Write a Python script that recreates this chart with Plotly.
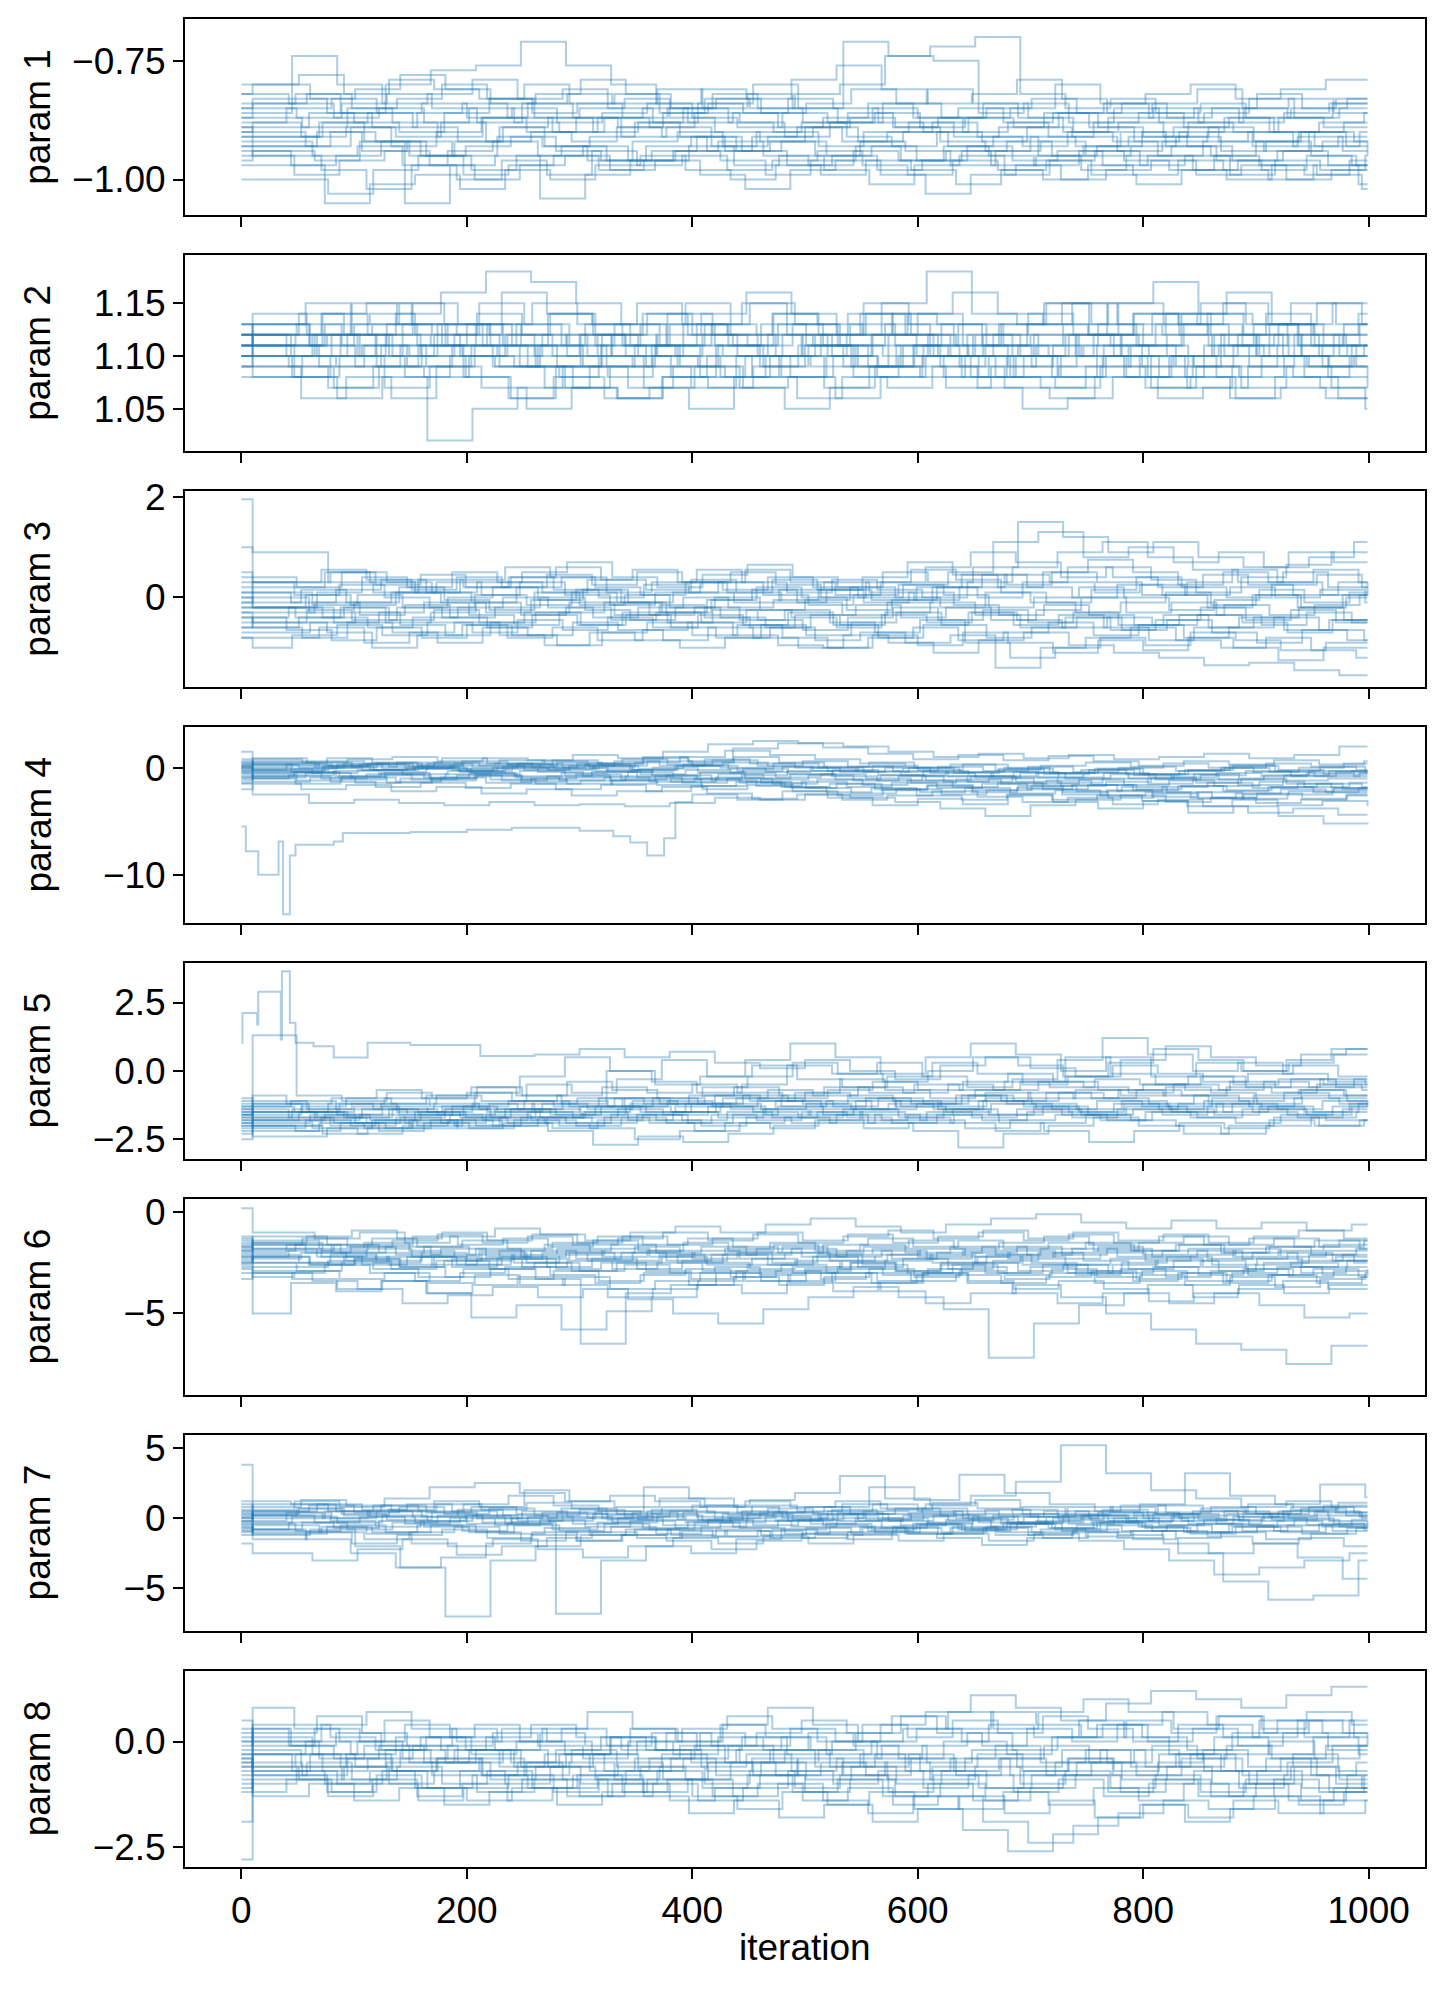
import plotly.graph_objects as go

# ---------------- data ----------------
# iteration grids (sampled chain positions)
GRID26 = [0, 40, 80, 120, 160, 200, 240, 280, 320, 360, 400, 440, 480, 520, 560,
          600, 640, 680, 720, 760, 800, 840, 880, 920, 960, 1000]
GRID27 = [0, 10, 40, 80, 120, 160, 200, 240, 280, 320, 360, 400, 440, 480, 520, 560,
          600, 640, 680, 720, 760, 800, 840, 880, 920, 960, 1000]
# each walker accepts its moves at its own iterations: shift of its step positions
WALKER_SHIFT = [0, 23, 11, 31, 5, 17, 37, 8, 27, 14, 34, 2, 20, 29, 9, 25,
                13, 36, 4, 21, 32, 7, 18, 39]

PARAM_LABELS = ["param 1", "param 2", "param 3", "param 4",
                "param 5", "param 6", "param 7", "param 8"]
X_TICKS = [0, 200, 400, 600, 800, 1000]
X_TITLE = "iteration"
LAST_ITER = 999

Y_TICKS = [
    [-1.00, -0.75],
    [1.05, 1.10, 1.15],
    [0, 2],
    [-10, 0],
    [-2.5, 0.0, 2.5],
    [-5, 0],
    [-5, 0, 5],
    [-2.5, 0.0],
]
Y_TICK_TEXT = [
    ["\u22121.00", "\u22120.75"],
    ["1.05", "1.10", "1.15"],
    ["0", "2"],
    ["\u221210", "0"],
    ["\u22122.5", "0.0", "2.5"],
    ["\u22125", "0"],
    ["\u22125", "0", "5"],
    ["\u22122.5", "0.0"],
]

P1_WALKERS = [
    [-0.88,-0.85,-0.83,-0.86,-0.84,-0.87,-0.85,-0.88,-0.86,-0.84,-0.87,-0.89,-0.86,-0.88,-0.85,-0.87,-0.90,-0.88,-0.86,-0.89,-0.91,-0.88,-0.90,-0.87,-0.89,-0.88],
    [-0.92,-0.95,-0.93,-0.97,-0.94,-0.92,-0.95,-0.93,-0.96,-0.94,-0.92,-0.95,-0.97,-0.94,-0.96,-0.93,-0.95,-0.97,-0.94,-0.96,-0.98,-0.95,-0.97,-0.99,-0.96,-0.98],
    [-0.80,-0.78,-0.82,-0.79,-0.81,-0.83,-0.80,-0.84,-0.82,-0.86,-0.83,-0.85,-0.82,-0.80,-0.74,-0.72,-0.70,-0.82,-0.85,-0.83,-0.86,-0.84,-0.87,-0.85,-0.83,-0.85],
    [-0.95,-0.98,-1.02,-0.97,-1.00,-0.96,-0.99,-0.94,-0.97,-0.95,-0.98,-0.96,-0.94,-0.97,-0.99,-0.96,-0.98,-1.00,-0.97,-0.99,-0.96,-0.98,-1.00,-0.97,-1.01,-1.02],
    [-0.86,-0.74,-0.80,-0.84,-0.82,-0.79,-0.83,-0.81,-0.85,-0.88,-0.84,-0.86,-0.83,-0.85,-0.88,-0.90,-0.87,-0.89,-0.86,-0.84,-0.87,-0.85,-0.88,-0.86,-0.84,-0.82],
    [-0.90,-0.93,-0.89,-0.91,-0.88,-0.92,-0.90,-0.87,-0.91,-0.89,-0.93,-0.90,-0.88,-0.91,-0.93,-0.90,-0.92,-0.89,-0.91,-0.94,-0.92,-0.90,-0.93,-0.91,-0.94,-0.92],
    [-1.00,-1.03,-0.98,-0.95,-0.99,-0.97,-0.95,-0.98,-0.96,-0.93,-0.97,-0.95,-0.98,-1.01,-0.97,-0.95,-0.99,-0.96,-0.94,-0.97,-0.95,-0.99,-0.96,-0.98,-0.95,-0.97],
    [-0.84,-0.82,-0.86,-0.80,-0.77,-0.76,-0.71,-0.76,-0.80,-0.84,-0.81,-0.83,-0.79,-0.76,-0.81,-0.84,-0.82,-0.79,-0.83,-0.86,-0.84,-0.81,-0.85,-0.87,-0.84,-0.86],
    [-0.93,-0.90,-0.94,-0.92,-0.95,-0.91,-0.93,-0.96,-0.92,-0.90,-0.93,-0.91,-0.89,-0.92,-0.90,-0.93,-0.91,-0.95,-0.93,-0.91,-0.89,-0.92,-0.94,-0.90,-0.92,-0.91],
    [-0.87,-0.89,-0.85,-0.88,-0.91,-0.87,-0.84,-0.87,-0.89,-0.86,-0.84,-0.80,-0.85,-0.71,-0.74,-0.75,-0.86,-0.84,-0.88,-0.85,-0.88,-0.86,-0.83,-0.87,-0.85,-0.83],
    [-0.97,-1.05,-1.01,-0.99,-1.02,-0.98,-1.00,-0.97,-0.95,-0.98,-1.00,-0.97,-0.99,-0.96,-0.98,-1.01,-0.98,-0.96,-0.99,-1.01,-0.98,-1.00,-0.97,-0.99,-1.02,-1.00],
    [-0.82,-0.84,-0.87,-0.85,-0.88,-0.85,-0.88,-0.90,-0.87,-0.89,-0.86,-0.88,-0.91,-0.88,-0.86,-0.89,-0.87,-0.85,-0.80,-0.84,-0.82,-0.80,-0.83,-0.81,-0.79,-0.81],
    [-0.89,-0.86,-0.88,-0.90,-0.86,-0.83,-0.87,-0.85,-0.83,-0.87,-0.90,-0.92,-0.89,-0.87,-0.89,-0.92,-0.94,-0.91,-0.93,-0.90,-0.93,-0.95,-0.92,-0.90,-0.93,-0.95],
    [-0.91,-0.88,-0.92,-0.95,-0.92,-0.89,-0.93,-0.91,-0.88,-0.91,-0.94,-0.92,-0.95,-0.92,-0.94,-0.97,-0.94,-0.92,-0.95,-0.93,-0.91,-0.94,-0.92,-0.95,-0.97,-0.94],
    [-0.85,-0.87,-0.84,-0.82,-0.85,-0.88,-0.84,-0.82,-0.84,-0.81,-0.85,-0.82,-0.85,-0.88,-0.84,-0.81,-0.84,-0.87,-0.90,-0.87,-0.85,-0.88,-0.85,-0.83,-0.86,-0.88],
    [-0.94,-0.96,-0.92,-1.05,-0.97,-0.95,-1.04,-0.99,-0.96,-0.94,-0.96,-0.99,-0.96,-0.93,-0.96,-0.94,-0.97,-0.95,-0.98,-0.95,-0.93,-0.96,-0.98,-0.95,-0.97,-0.99],
    [-0.90,-0.88,-0.91,-0.89,-0.93,-0.90,-0.87,-0.90,-0.92,-0.89,-0.91,-0.94,-0.91,-0.89,-0.92,-0.90,-0.88,-0.91,-0.93,-0.90,-0.92,-0.95,-0.92,-0.90,-0.93,-0.91,-0.93],
    [-0.85,-0.83,-0.86,-0.89,-0.86,-0.84,-0.87,-0.90,-0.87,-0.85,-0.88,-0.86,-0.89,-0.87,-0.84,-0.87,-0.85,-0.88,-0.91,-0.88,-0.86,-0.89,-0.87,-0.90,-0.88,-0.86,-0.89],
    [-0.96,-0.94,-0.97,-0.95,-0.92,-0.95,-0.98,-0.95,-0.93,-0.96,-0.94,-0.91,-0.94,-0.97,-0.95,-0.98,-0.96,-0.93,-0.96,-0.94,-0.97,-0.95,-0.98,-0.96,-0.94,-0.97,-0.95],
    [-0.82,-0.80,-0.83,-0.81,-0.78,-0.81,-0.84,-0.82,-0.79,-0.82,-0.85,-0.83,-0.86,-0.84,-0.81,-0.84,-0.87,-0.85,-0.83,-0.86,-0.84,-0.87,-0.85,-0.82,-0.85,-0.83,-0.86],
    [-0.89,-0.91,-0.88,-0.86,-0.89,-0.92,-0.89,-0.87,-0.90,-0.88,-0.85,-0.88,-0.90,-0.93,-0.90,-0.88,-0.91,-0.89,-0.86,-0.89,-0.92,-0.90,-0.87,-0.90,-0.93,-0.90,-0.92],
    [-0.93,-0.95,-0.99,-0.96,-0.94,-0.97,-1.00,-0.97,-0.95,-0.98,-0.96,-0.99,-1.02,-0.98,-0.96,-0.99,-1.03,-0.99,-0.97,-1.00,-0.98,-0.96,-0.99,-0.97,-1.00,-0.98,-1.01],
    [-0.87,-0.84,-0.82,-0.85,-0.83,-0.80,-0.83,-0.86,-0.84,-0.87,-0.85,-0.82,-0.85,-0.88,-0.86,-0.89,-0.87,-0.84,-0.87,-0.90,-0.88,-0.91,-0.89,-0.92,-0.90,-0.88,-0.91],
    [-0.91,-0.93,-0.90,-0.92,-0.95,-0.93,-0.91,-0.94,-0.96,-0.93,-0.91,-0.94,-0.92,-0.95,-0.93,-0.96,-0.94,-0.92,-0.95,-0.93,-0.90,-0.93,-0.96,-0.94,-0.92,-0.95,-0.96],
]

P2_WALKERS = [
    [1.12,1.14,1.15,1.13,1.12,1.16,1.14,1.13,1.15,1.13,1.12,1.14,1.13,1.12,1.14,1.16,1.14,1.13,1.12,1.14,1.13,1.15,1.13,1.12,1.14,1.13],
    [1.10,1.08,1.06,1.08,1.02,1.05,1.07,1.09,1.08,1.10,1.09,1.07,1.08,1.10,1.09,1.11,1.10,1.08,1.09,1.11,1.10,1.09,1.08,1.10,1.09,1.08],
    [1.13,1.15,1.12,1.14,1.16,1.18,1.17,1.15,1.13,1.11,1.13,1.12,1.10,1.12,1.14,1.13,1.11,1.13,1.15,1.13,1.12,1.14,1.13,1.11,1.12,1.14],
    [1.09,1.07,1.09,1.11,1.08,1.06,1.08,1.10,1.07,1.05,1.08,1.10,1.07,1.09,1.11,1.09,1.07,1.06,1.08,1.10,1.08,1.06,1.08,1.07,1.05,1.06],
    [1.11,1.12,1.10,1.12,1.11,1.13,1.11,1.12,1.10,1.12,1.14,1.16,1.14,1.12,1.15,1.18,1.14,1.13,1.15,1.12,1.14,1.13,1.11,1.13,1.15,1.12],
    [1.12,1.10,1.11,1.09,1.11,1.10,1.12,1.10,1.09,1.11,1.10,1.12,1.11,1.09,1.11,1.10,1.12,1.10,1.11,1.09,1.10,1.11,1.10,1.09,1.10,1.10],
    [1.08,1.10,1.12,1.10,1.13,1.11,1.09,1.07,1.06,1.08,1.07,1.09,1.11,1.09,1.12,1.10,1.08,1.10,1.12,1.10,1.08,1.11,1.09,1.12,1.10,1.11],
    [1.11,1.13,1.14,1.12,1.10,1.12,1.14,1.11,1.13,1.15,1.12,1.10,1.12,1.14,1.12,1.11,1.13,1.15,1.13,1.11,1.14,1.16,1.13,1.15,1.13,1.14],
    [1.10,1.09,1.07,1.09,1.08,1.10,1.09,1.08,1.06,1.07,1.09,1.07,1.05,1.07,1.09,1.08,1.10,1.08,1.07,1.09,1.07,1.08,1.06,1.07,1.06,1.07],
    [1.13,1.11,1.13,1.15,1.13,1.12,1.10,1.12,1.11,1.13,1.11,1.09,1.11,1.13,1.11,1.09,1.11,1.12,1.10,1.12,1.14,1.12,1.10,1.12,1.11,1.09],
    [1.11,1.09,1.11,1.10,1.12,1.09,1.07,1.09,1.11,1.09,1.08,1.10,1.12,1.14,1.12,1.10,1.08,1.07,1.09,1.11,1.09,1.12,1.14,1.11,1.09,1.10],
    [1.12,1.13,1.11,1.13,1.12,1.14,1.12,1.10,1.12,1.10,1.12,1.11,1.13,1.11,1.10,1.12,1.10,1.11,1.13,1.15,1.17,1.14,1.12,1.10,1.12,1.16],
    [1.10,1.12,1.10,1.08,1.10,1.09,1.11,1.13,1.11,1.10,1.08,1.10,1.09,1.11,1.09,1.07,1.09,1.11,1.10,1.08,1.10,1.08,1.10,1.09,1.11,1.10],
    [1.09,1.06,1.08,1.06,1.09,1.07,1.05,1.07,1.06,1.08,1.10,1.08,1.06,1.08,1.07,1.09,1.07,1.05,1.06,1.08,1.06,1.07,1.09,1.08,1.06,1.05],
    [1.11,1.12,1.13,1.11,1.10,1.12,1.10,1.12,1.14,1.12,1.11,1.13,1.11,1.09,1.11,1.13,1.11,1.10,1.12,1.11,1.13,1.11,1.12,1.10,1.11,1.12],
    [1.12,1.10,1.09,1.11,1.09,1.11,1.13,1.11,1.09,1.11,1.13,1.15,1.12,1.10,1.08,1.10,1.12,1.10,1.08,1.10,1.08,1.10,1.12,1.10,1.08,1.09],
    [1.11,1.13,1.11,1.09,1.11,1.13,1.11,1.09,1.12,1.10,1.08,1.11,1.13,1.11,1.09,1.11,1.13,1.11,1.09,1.12,1.10,1.12,1.10,1.12,1.10,1.11,1.10],
    [1.13,1.11,1.14,1.12,1.15,1.13,1.11,1.14,1.12,1.10,1.13,1.11,1.14,1.12,1.15,1.13,1.11,1.13,1.15,1.12,1.14,1.12,1.10,1.13,1.11,1.13,1.12],
    [1.09,1.11,1.08,1.10,1.07,1.09,1.11,1.09,1.07,1.09,1.11,1.08,1.10,1.08,1.06,1.08,1.10,1.08,1.10,1.08,1.10,1.07,1.09,1.07,1.09,1.07,1.08],
    [1.12,1.14,1.12,1.15,1.13,1.11,1.13,1.15,1.13,1.11,1.14,1.12,1.10,1.12,1.14,1.12,1.10,1.12,1.14,1.12,1.15,1.13,1.11,1.13,1.11,1.13,1.13],
    [1.10,1.08,1.10,1.12,1.10,1.08,1.06,1.09,1.11,1.09,1.07,1.10,1.08,1.10,1.12,1.10,1.08,1.10,1.08,1.11,1.09,1.07,1.09,1.11,1.09,1.07,1.06],
    [1.11,1.12,1.10,1.12,1.09,1.11,1.13,1.11,1.09,1.12,1.14,1.12,1.10,1.12,1.10,1.12,1.14,1.11,1.09,1.11,1.13,1.11,1.09,1.11,1.13,1.11,1.11],
    [1.12,1.10,1.12,1.10,1.13,1.11,1.09,1.11,1.09,1.07,1.09,1.11,1.09,1.11,1.08,1.10,1.08,1.10,1.12,1.10,1.08,1.10,1.12,1.10,1.08,1.10,1.09],
    [1.10,1.12,1.14,1.12,1.10,1.12,1.15,1.13,1.11,1.13,1.11,1.13,1.15,1.13,1.11,1.13,1.10,1.12,1.10,1.12,1.11,1.13,1.15,1.13,1.15,1.13,1.14],
]

P3_WALKERS = [
    [1.95,0.90,0.30,0.10,0.35,0.20,0.40,0.15,0.00,0.25,0.10,-0.10,0.15,0.30,0.10,-0.05,0.20,0.45,0.30,0.10,0.25,0.05,0.20,0.00,0.15,-0.10,0.05],
    [1.00,-0.20,-0.40,-0.20,-0.50,-0.30,-0.10,-0.35,-0.20,-0.45,-0.30,-0.50,-0.25,-0.40,-0.60,-0.35,-0.50,-0.30,-0.45,-0.60,-0.40,-0.55,-0.35,-0.50,-0.70,-0.45,-0.60],
    [-0.20,0.10,0.40,0.20,0.50,0.30,0.10,0.35,0.55,0.30,0.15,0.40,0.20,0.00,0.25,0.50,1.10,1.30,0.80,1.00,0.70,0.90,0.60,0.80,1.10,1.15],
    [-0.60,-0.80,-0.50,-0.70,-0.90,-0.60,-0.75,-0.50,-0.65,-0.85,-0.60,-0.80,-1.00,-0.75,-0.90,-1.10,-0.85,-0.70,-0.95,-1.10,-1.20,-1.35,-1.30,-1.45,-1.55,-1.60],
    [0.20,0.50,0.30,0.10,0.35,0.60,0.40,0.20,0.05,0.30,0.50,0.25,0.00,0.30,0.55,0.35,0.10,-0.10,0.15,0.40,0.20,0.00,0.25,0.45,0.20,0.35],
    [-0.40,-0.20,-0.50,-0.30,-0.10,-0.35,-0.55,-0.30,-0.10,-0.35,-0.20,-0.45,-0.25,-0.50,-0.70,-0.45,-0.90,-1.20,-1.00,-0.80,-0.95,-0.70,-0.85,-1.05,-0.90,-1.10],
    [0.00,-0.30,-0.10,0.20,-0.05,-0.25,0.10,-0.15,0.05,-0.20,0.00,-0.25,-0.05,0.20,0.00,-0.20,0.10,-0.10,-0.30,-0.10,0.10,-0.15,0.05,-0.20,0.00,0.20],
    [-0.80,-0.60,-0.90,-0.70,-0.50,-0.75,-0.95,-0.70,-0.85,-1.00,-0.80,-0.60,-0.85,-0.70,-0.90,-0.75,-1.40,-1.00,-0.80,-0.60,-0.85,-1.00,-0.80,-1.05,-1.20,-1.00],
    [0.40,0.20,0.50,0.30,0.10,0.30,0.50,0.70,0.40,0.20,0.45,0.65,0.40,0.20,0.50,0.30,0.60,1.50,1.20,0.90,1.10,0.80,0.60,0.90,0.70,0.60],
    [-0.30,-0.10,-0.35,-0.15,-0.40,-0.20,0.00,-0.25,-0.45,-0.20,-0.40,-0.60,-0.35,-0.15,-0.40,-0.20,-0.45,-0.25,0.00,-0.30,-0.10,-0.35,-0.55,-0.30,-0.50,-0.30],
    [-0.10,0.15,-0.10,0.10,0.30,0.05,-0.15,0.10,-0.10,-0.30,-0.05,0.15,-0.10,-0.35,-0.10,0.20,0.00,0.30,0.60,0.40,0.20,0.45,0.25,0.05,0.30,0.50],
    [-0.50,-0.70,-1.00,-0.75,-0.55,-0.80,-0.60,-0.85,-0.65,-0.50,-0.75,-0.95,-1.00,-0.80,-0.60,-0.85,-0.70,-0.50,-0.75,-0.55,-0.80,-0.60,-0.40,-0.65,-0.85,-0.70],
    [0.10,-0.10,0.15,0.35,0.10,-0.10,0.20,0.40,0.10,0.30,0.55,0.30,0.10,0.35,0.15,0.00,0.30,0.60,0.90,1.10,0.80,0.55,0.30,0.50,0.20,-0.10],
    [-0.70,-0.50,-0.30,-0.55,-0.75,-0.50,-0.30,-0.55,-0.35,-0.60,-0.80,-0.55,-0.75,-0.50,-0.30,-0.55,-0.80,-0.60,-0.40,-0.65,-0.45,-0.70,-0.90,-0.65,-0.85,-0.65],
    [-0.20,-0.40,-0.60,-0.40,-0.20,0.00,-0.20,-0.40,-0.20,0.00,-0.20,-0.05,0.15,-0.10,0.10,-0.15,-0.35,-0.15,-0.35,-0.55,-0.35,-0.15,-0.35,-0.15,0.05,-0.15],
    [0.30,0.05,0.25,0.00,-0.20,0.05,0.30,0.05,-0.15,0.10,0.30,0.55,0.30,0.05,0.30,0.60,0.90,0.70,0.40,0.60,0.35,0.10,0.40,0.65,0.90,0.80],
    [-0.30,-0.50,-0.25,-0.45,-0.20,-0.40,-0.60,-0.35,-0.55,-0.30,-0.50,-0.25,-0.45,-0.65,-0.40,-0.20,-0.45,-0.25,-0.50,-0.30,-0.55,-0.35,-0.60,-0.40,-0.20,-0.45,-0.25],
    [0.10,0.30,0.50,0.25,0.45,0.20,0.40,0.60,0.35,0.15,0.35,0.10,-0.10,0.15,-0.05,0.20,0.45,0.25,0.50,0.30,0.05,0.30,0.55,0.30,0.05,0.30,0.50],
    [-0.60,-0.40,-0.65,-0.85,-0.60,-0.80,-0.55,-0.75,-0.95,-0.70,-0.50,-0.75,-0.55,-0.80,-1.00,-0.75,-0.95,-0.70,-0.90,-1.10,-0.85,-1.05,-0.80,-1.00,-1.25,-1.00,-1.20],
    [-0.10,0.10,-0.15,0.05,-0.20,0.00,0.20,-0.05,0.15,-0.10,0.10,0.30,0.05,-0.15,0.05,0.25,0.05,-0.20,0.00,0.20,0.00,-0.25,-0.05,0.15,-0.10,0.10,-0.05],
    [-0.40,-0.60,-0.40,-0.20,-0.45,-0.25,-0.50,-0.30,-0.10,-0.35,-0.15,-0.40,-0.60,-0.35,-0.55,-0.30,-0.10,-0.35,-0.60,-0.40,-0.65,-0.45,-0.20,-0.45,-0.25,-0.50,-0.35],
    [0.50,0.30,0.55,0.35,0.15,0.40,0.20,0.45,0.25,0.50,0.30,0.10,0.35,0.15,0.40,0.70,0.45,0.20,0.50,0.75,0.50,0.25,0.50,0.30,0.55,0.30,0.10],
    [-0.80,-1.00,-0.75,-0.55,-0.75,-0.50,-0.70,-0.45,-0.65,-0.40,-0.60,-0.35,-0.55,-0.30,-0.55,-0.80,-0.55,-0.30,-0.55,-0.35,-0.60,-0.85,-0.60,-0.40,-0.65,-0.45,-0.70],
    [0.00,-0.20,0.05,-0.15,0.10,-0.10,-0.30,-0.05,0.15,-0.10,-0.30,-0.05,0.20,0.00,-0.25,-0.05,0.20,0.45,0.20,0.00,0.25,0.05,-0.20,0.05,-0.20,0.05,0.25],
]

P4_WALKERS = [
    [1.5,0.8,0.5,0.8,1.0,0.6,0.9,0.7,1.2,0.9,1.5,2.2,2.5,2.3,2.0,1.5,1.0,1.3,0.9,1.2,0.8,1.0,1.3,0.9,1.2,2.0,2.2],
    [0.0,-0.3,0.2,-0.2,0.1,-0.4,-0.1,0.2,-0.3,-0.6,-0.2,-0.5,-0.9,-0.6,-1.0,-1.4,-1.1,-1.5,-1.2,-1.6,-2.0,-1.7,-2.1,-1.8,-1.5,-1.8,-1.6],
    [-0.5,-1.0,-0.7,-0.3,-0.6,-0.9,-0.5,-0.8,-1.2,-0.9,-1.3,-1.0,-1.4,-1.8,-1.5,-2.0,-2.3,-1.9,-2.4,-2.1,-2.6,-2.3,-2.8,-2.4,-2.0,-2.3,-2.0],
    [-1.5,-2.5,-3.3,-3.0,-3.3,-3.5,-3.2,-3.5,-3.4,-3.6,-3.3,-2.8,-3.0,-2.5,-2.8,-3.2,-3.8,-4.5,-3.5,-3.0,-2.6,-3.2,-2.8,-3.3,-3.0,-2.6,-2.8],
    [0.5,0.2,0.6,0.3,0.0,0.4,0.7,0.3,0.0,0.5,1.0,1.6,1.2,0.8,0.4,0.0,0.3,-0.2,0.2,0.5,0.1,-0.3,0.0,0.4,0.1,-0.2,0.1],
    [-1.0,-0.6,-1.2,-0.8,-1.4,-1.0,-0.7,-1.1,-1.5,-1.2,-1.6,-2.0,-1.6,-2.2,-2.6,-2.0,-1.6,-2.1,-1.7,-2.3,-2.8,-2.4,-2.9,-2.5,-2.2,-1.9,-2.2],
    [0.2,0.5,0.0,0.3,-0.1,0.2,0.4,0.0,0.3,-0.2,0.2,0.0,-0.4,0.0,-0.3,-0.7,-0.4,-0.8,-0.5,-0.2,-0.6,-0.9,-0.5,-0.8,-0.5,-0.3,-0.6],
    [-2.0,-1.5,-2.0,-1.6,-2.2,-1.8,-2.4,-2.0,-2.6,-2.2,-1.8,-2.4,-2.9,-2.5,-3.0,-2.6,-2.2,-2.7,-3.2,-2.8,-3.4,-3.0,-3.6,-4.2,-3.8,-4.4,-4.6],
    [0.8,0.4,0.9,0.5,0.2,0.6,0.3,0.7,0.4,1.0,0.6,1.8,2.3,1.9,1.3,0.8,1.2,0.7,1.1,0.6,0.2,0.6,0.3,0.7,0.3,0.6,0.9],
    [-0.3,0.0,-0.4,-0.8,-0.4,-0.1,-0.5,-0.9,-0.5,-0.2,-0.7,-1.1,-0.7,-0.3,-0.8,-1.2,-0.8,-1.3,-0.9,-1.4,-1.0,-1.5,-1.1,-1.6,-1.2,-1.0,-1.3],
    [-0.8,-1.3,-0.9,-1.4,-1.0,-0.6,-1.1,-1.5,-1.2,-0.8,-1.3,-0.9,-1.4,-1.9,-2.4,-2.0,-2.5,-2.1,-1.7,-2.2,-1.8,-2.3,-2.8,-2.4,-2.9,-2.5,-2.1],
    [0.0,-0.4,0.1,0.4,0.0,-0.3,0.1,-0.2,0.2,-0.1,0.3,-0.1,0.4,0.0,-0.4,0.0,-0.5,-0.1,-0.6,-0.2,-0.7,-0.3,0.0,-0.4,-0.8,-0.5,-0.9],
    [-0.2,-0.8,-0.4,-0.9,-0.5,-1.0,-0.6,-0.3,-0.7,-1.2,-0.8,-0.4,-1.0,-0.6,-1.1,-0.7,-1.2,-0.8,-1.3,-1.7,-1.3,-0.9,-1.4,-1.0,-1.5,-1.9,-1.5],
    [0.4,0.9,0.5,0.1,0.5,0.9,0.4,0.0,0.4,0.8,0.3,0.7,0.2,0.6,0.1,-0.3,0.1,-0.3,0.1,-0.4,0.0,0.4,0.0,-0.4,0.0,0.4,0.0],
    [-1.2,-0.8,-1.3,-1.8,-1.4,-1.9,-1.5,-2.0,-1.6,-2.2,-1.7,-1.3,-1.8,-2.3,-1.9,-2.6,-3.0,-2.5,-3.0,-2.6,-3.1,-3.6,-3.0,-3.5,-3.1,-3.6,-3.2],
    [0.3,-0.2,0.3,0.0,0.4,0.0,-0.3,0.1,0.5,0.2,0.6,0.2,-0.3,0.1,-0.3,0.2,-0.2,0.3,-0.1,-0.5,-0.1,-0.6,-0.2,0.2,-0.2,-0.6,-0.3],
    [-0.4,-0.1,-0.5,-0.2,-0.6,-0.3,0.0,-0.4,-0.8,-0.4,-1.0,-0.6,-1.1,-0.7,-1.2,-0.8,-1.3,-1.0,-1.5,-1.1,-1.6,-1.2,-1.7,-1.3,-1.8,-1.4,-1.9],
    [0.6,0.3,0.0,0.4,0.1,0.5,0.2,-0.2,0.2,0.6,0.2,0.8,0.4,0.0,-0.4,0.0,-0.5,-0.9,-0.5,-1.0,-0.6,-1.1,-0.7,-0.3,-0.8,-0.4,-0.9],
    [-0.9,-0.5,-1.0,-0.6,-1.1,-0.7,-1.2,-0.8,-0.4,-0.9,-1.4,-1.0,-1.5,-1.1,-1.6,-1.2,-1.8,-1.4,-2.0,-1.6,-2.1,-1.7,-2.2,-1.8,-2.3,-1.9,-1.5],
    [-0.1,0.3,-0.1,0.3,-0.1,0.4,0.0,0.4,0.0,-0.4,0.0,-0.5,-0.1,-0.6,-0.2,-0.7,-0.3,-0.8,-0.4,-0.9,-0.5,-1.0,-0.6,-1.1,-0.7,-0.3,-0.8],
    [-0.6,-0.9,-0.5,-0.9,-1.3,-0.9,-1.4,-1.0,-0.6,-1.1,-0.7,-1.2,-1.7,-1.3,-1.8,-1.4,-1.9,-1.5,-2.0,-1.6,-2.2,-1.8,-1.4,-1.9,-1.5,-2.0,-1.6],
    [0.1,-0.2,0.2,-0.2,0.3,-0.1,0.3,-0.1,0.4,0.9,0.5,1.0,0.5,0.1,0.5,0.0,-0.4,0.0,-0.5,-0.1,-0.6,-0.2,0.2,-0.3,0.1,-0.4,0.0],
    [-1.4,-1.0,-1.5,-1.1,-0.7,-1.2,-0.8,-1.3,-0.9,-1.5,-1.1,-1.7,-1.3,-1.9,-1.5,-2.1,-1.7,-2.3,-1.9,-2.5,-2.1,-2.7,-2.3,-2.9,-2.5,-2.1,-2.6],
    [0.2,0.6,0.2,-0.2,0.2,-0.2,0.2,0.6,0.2,-0.2,0.2,0.5,0.1,-0.3,0.1,-0.4,-0.8,-0.4,-0.9,-0.5,-1.0,-0.6,-1.1,-0.7,-0.3,-0.8,-0.5],
]
# the stray walker of param 4 (own iteration positions)
P4_STRAY_ITER = [0, 4, 15, 33, 37, 43, 48, 82, 90, 150, 200, 240, 300, 330, 345, 360, 375, 385, 400, 440,
                 480, 520, 560, 600, 640, 680, 720, 760, 800, 840, 880, 920, 960, 999]
P4_STRAY_VAL = [-5.5, -7.8, -10.0, -6.9, -13.7, -8.2, -7.2, -6.9, -6.1, -6.0, -5.8, -5.6, -5.9, -6.4, -7.0, -8.2, -6.6, -3.2, -2.5, -3.0,
                -2.2, -2.8, -3.5, -2.9, -3.4, -2.6, -3.2, -3.8, -3.1, -4.2, -3.6, -4.5, -5.2, -5.3]

P5_WALKERS = [
    [-1.6,-1.2,-1.5,-1.3,-1.6,-1.4,-1.2,-1.5,-1.3,-1.0,-1.2,-0.9,-1.1,-0.8,-1.0,-1.3,-1.1,-0.8,-1.0,-0.7,-0.9,-0.6,-0.8,-1.0,-0.7,-0.9,-0.7],
    [-2.0,-2.2,-1.9,-2.1,-1.8,-2.0,-1.7,-1.9,-2.1,-2.5,-2.2,-1.9,-2.1,-1.8,-1.5,-1.7,-1.9,-2.2,-1.9,-1.6,-1.8,-2.0,-2.3,-2.0,-1.7,-1.5,-1.6],
    [-1.2,1.3,-0.9,-1.1,-0.8,-1.0,-0.6,-0.9,-0.4,-0.7,-1.0,-0.6,-0.2,0.3,-0.1,-0.4,0.0,0.5,0.2,-0.2,0.3,0.8,0.4,0.0,0.3,0.6,0.7],
    [-1.8,-1.5,-1.8,-1.6,-1.9,-1.6,-1.4,-1.7,-1.5,-1.2,-1.5,-1.3,-1.6,-1.4,-1.1,-1.3,-1.5,-1.2,-1.4,-1.6,-1.3,-1.5,-1.2,-1.4,-1.6,-1.3,-1.5],
    [-1.4,-1.6,-1.3,-1.0,-1.2,-0.9,-1.1,-0.5,-0.8,-0.3,0.4,-0.2,0.2,-0.3,-0.6,-0.2,0.3,-0.1,-0.5,-0.2,0.2,-0.1,-0.4,-0.1,0.2,-0.2,0.0],
    [-2.2,-2.4,-2.1,-1.8,-2.0,-1.7,-1.9,-2.1,-1.8,-1.6,-1.9,-1.6,-1.3,-1.6,-1.9,-2.2,-2.8,-2.3,-2.0,-1.7,-2.0,-2.3,-2.0,-1.7,-2.0,-1.8,-1.9],
    [-1.0,-1.3,-1.1,-1.4,-1.2,-0.9,-0.6,-0.9,-1.2,0.0,-0.4,-0.8,-0.5,0.2,-0.1,0.3,-0.2,-0.6,-0.3,0.4,1.2,0.6,0.0,0.3,-0.1,-0.4,-0.2],
    [-1.7,-1.9,-1.6,-1.9,-1.7,-1.4,-1.7,-1.4,-1.6,-1.3,-1.5,-1.2,-1.4,-1.2,-1.4,-1.1,-1.3,-1.0,-1.2,-1.4,-1.1,-1.3,-1.0,-1.2,-0.9,-1.1,-1.3],
    [-2.5,-2.0,-2.3,-2.1,-1.8,-2.1,-1.9,-2.2,-2.7,-2.4,-2.6,-2.3,-2.0,-1.8,-2.1,-1.9,-1.6,-1.9,-2.2,-2.6,-2.2,-1.9,-2.1,-1.8,-2.0,-1.8,-1.7],
    [-1.5,-1.3,-1.5,-1.2,-1.0,-1.3,-0.8,-0.2,0.5,0.0,-0.5,-0.2,0.4,1.0,0.5,-0.1,0.5,1.0,0.6,0.0,0.5,-0.2,0.3,0.0,0.4,0.8,0.2],
    [-1.3,-1.1,-1.4,-1.2,-1.5,-1.3,-1.5,-1.2,-1.0,-1.3,-1.1,-1.3,-1.0,-1.2,-0.9,-1.1,-1.4,-1.1,-0.8,-1.0,-0.7,-0.9,-1.2,-0.9,-0.7,-0.9,-0.6],
    [-1.9,-1.7,-2.0,-1.8,-1.5,-1.7,-1.4,-1.6,-1.3,-1.5,-1.2,-1.0,-1.3,-1.1,-1.4,-1.2,-0.9,-1.2,-1.4,-1.1,-1.3,-1.5,-1.2,-1.4,-1.1,-1.3,-1.4],
    [-1.1,-0.9,-1.2,-1.0,-0.7,-1.0,-0.8,-1.1,-0.9,-0.6,-0.8,-0.5,-0.8,-1.0,-0.7,-0.4,-0.7,-0.4,-0.1,-0.4,-0.7,-0.5,-0.2,-0.5,-0.3,-0.5,-0.4],
    [-2.1,-1.8,-2.1,-2.3,-2.0,-1.8,-2.0,-1.7,-1.5,-1.8,-1.5,-1.7,-1.4,-1.6,-1.4,-1.7,-1.4,-1.6,-1.3,-1.5,-1.2,-1.4,-1.6,-1.3,-1.5,-1.2,-1.2],
    [-1.6,-1.8,-1.5,-1.7,-1.4,-1.2,-1.4,-1.1,-1.3,-1.0,-1.2,-0.9,-1.1,-0.8,-0.3,-0.7,-1.0,-0.7,-0.4,0.5,-0.1,-0.5,-0.2,-0.6,-0.3,-0.6,-0.8],
    [-1.8,-2.0,-1.7,-1.9,-2.1,-1.8,-2.0,-1.7,-1.9,-1.6,-1.8,-1.5,-1.7,-1.5,-1.8,-1.6,-1.4,-1.6,-1.3,-1.6,-1.4,-1.2,-1.5,-1.3,-1.5,-1.2,-1.1],
    [-1.5,-1.7,-1.4,-1.6,-1.3,-1.5,-1.2,-1.4,-1.1,-1.3,-1.0,-1.2,-0.9,-1.1,-1.3,-1.0,-1.2,-0.9,-1.1,-0.8,-1.0,-1.2,-0.9,-1.1,-0.8,-1.0,-0.9],
    [-1.9,-2.1,-1.8,-2.0,-1.7,-1.9,-1.6,-1.8,-2.0,-1.7,-1.9,-1.6,-1.8,-1.5,-1.7,-1.9,-1.6,-1.8,-1.5,-1.7,-1.4,-1.6,-1.3,-1.5,-1.7,-1.4,-1.5],
    [-1.3,-1.5,-1.2,-1.4,-1.6,-1.3,-1.1,-1.3,-1.0,-1.2,-0.9,-0.6,-0.9,-0.6,-0.8,-0.5,-0.7,-0.4,-0.6,-0.3,-0.5,-0.7,-0.4,-0.6,-0.3,-0.5,-0.2],
    [-2.3,-2.0,-2.2,-1.9,-2.1,-1.8,-2.0,-1.7,-1.9,-1.6,-1.8,-2.0,-1.7,-1.9,-1.6,-1.8,-1.5,-1.7,-1.4,-1.6,-1.8,-1.5,-1.7,-1.4,-1.6,-1.3,-1.4],
    [-1.7,-1.5,-1.7,-1.4,-1.6,-1.3,-1.5,-1.2,-1.4,-1.1,-1.3,-1.0,-0.7,-0.9,-0.6,-0.8,-0.5,-0.7,-0.4,-0.6,-0.8,-0.5,-0.7,-0.4,-0.6,-0.3,-0.4],
    [-1.4,-1.2,-1.5,-1.7,-1.4,-1.6,-1.8,-1.5,-1.7,-1.4,-1.6,-1.3,-1.5,-1.7,-1.4,-1.2,-1.4,-1.1,-1.3,-1.5,-1.2,-1.4,-1.1,-1.3,-1.0,-1.2,-1.0],
    [-2.0,-1.8,-1.6,-1.8,-1.5,-1.7,-1.4,-1.6,-1.3,-1.5,-1.2,-1.4,-1.1,-1.3,-1.0,-1.2,-0.9,-1.1,-0.8,-1.0,-0.7,-0.9,-0.6,-0.8,-0.5,-0.7,-0.6],
    [-1.6,-1.4,-1.7,-1.9,-2.2,-1.9,-2.1,-1.8,-2.0,-1.7,-1.9,-2.2,-1.9,-1.7,-1.9,-1.6,-1.8,-2.1,-1.8,-1.6,-1.8,-1.5,-1.7,-1.9,-1.6,-1.8,-1.9],
]
# the stray walker of param 5 (own iteration positions)
P5_STRAY_ITER = [0, 1, 14, 15, 35, 36, 43, 48, 64, 82, 112, 150, 212, 260, 300, 340, 380, 420, 460, 500,
                 540, 580, 620, 660, 700, 740, 780, 820, 860, 900, 940, 980, 999]
P5_STRAY_VAL = [1.03, 2.12, 1.70, 2.89, 1.15, 3.64, 1.76, 1.03, 0.90, 0.49, 1.03, 0.95, 0.55, 0.60, 0.80, 0.50, 0.70, 0.30, 0.10, 0.40,
                0.00, -0.30, 0.20, 0.50, 0.10, -0.20, 0.40, 0.90, 0.50, 0.20, 0.60, 0.80, 0.80]

P6_WALKERS = [
    [0.2,-1.0,-1.3,-1.0,-1.5,-1.2,-0.8,-1.1,-1.4,-1.0,-0.7,-1.0,-0.6,-0.3,-0.7,-1.0,-0.6,-0.3,-0.1,-0.5,-0.8,-0.4,-0.8,-0.5,-0.9,-0.6,-0.2],
    [-2.0,-2.3,-2.0,-2.4,-2.8,-2.4,-2.0,-2.5,-2.9,-2.5,-2.2,-2.6,-2.3,-2.7,-2.4,-2.1,-2.5,-2.2,-2.6,-3.0,-2.6,-2.3,-2.7,-3.1,-2.7,-2.4,-2.6],
    [-1.5,-1.2,-1.6,-1.3,-1.7,-1.4,-1.8,-1.5,-1.2,-1.6,-1.3,-1.7,-2.0,-1.6,-1.3,-1.7,-1.4,-1.8,-1.5,-1.9,-1.5,-1.2,-1.6,-1.3,-1.7,-1.4,-1.8],
    [-3.0,-5.0,-3.5,-3.9,-3.4,-4.0,-5.2,-4.6,-5.8,-4.9,-4.2,-3.6,-4.0,-3.5,-3.0,-3.4,-3.0,-3.5,-4.0,-4.5,-4.0,-3.6,-4.2,-3.8,-3.4,-3.8,-3.3],
    [-2.5,-2.2,-2.6,-2.3,-2.7,-3.2,-2.8,-3.3,-6.5,-4.0,-3.6,-3.0,-3.4,-2.9,-2.5,-2.9,-2.5,-2.1,-2.5,-2.9,-2.5,-2.2,-2.6,-2.3,-2.7,-2.4,-2.8],
    [-1.8,-1.5,-1.9,-1.6,-1.2,-1.6,-1.3,-1.7,-1.4,-1.9,-1.5,-1.9,-1.6,-2.0,-1.7,-1.4,-1.8,-1.5,-1.2,-1.6,-1.9,-1.6,-2.0,-1.7,-1.4,-1.8,-1.5],
    [-2.8,-3.2,-2.9,-3.3,-3.0,-3.5,-3.1,-3.6,-3.2,-3.8,-3.4,-3.0,-3.4,-3.0,-3.5,-3.9,-4.5,-4.0,-3.6,-4.2,-5.0,-5.8,-6.5,-6.8,-7.5,-6.6,-6.5],
    [-1.2,-1.5,-1.2,-0.9,-1.3,-1.0,-1.4,-1.1,-1.5,-1.2,-1.6,-1.3,-1.0,-1.4,-1.1,-1.5,-1.2,-0.9,-1.3,-1.0,-1.4,-1.1,-1.5,-1.2,-0.9,-1.3,-1.1],
    [-2.2,-2.5,-2.1,-2.5,-2.2,-2.6,-2.3,-2.8,-2.5,-2.9,-3.3,-2.9,-2.6,-3.0,-3.5,-3.1,-2.7,-3.1,-2.8,-3.2,-2.9,-3.4,-3.0,-2.7,-3.1,-2.8,-3.2],
    [-1.7,-2.0,-1.6,-2.0,-2.4,-2.0,-2.4,-2.1,-1.8,-2.2,-1.9,-2.3,-2.0,-1.7,-2.1,-1.8,-2.2,-1.9,-2.3,-2.0,-1.7,-2.1,-1.8,-2.2,-1.9,-1.6,-2.0],
    [-3.3,-3.0,-3.4,-3.8,-4.5,-4.1,-3.7,-4.2,-3.8,-4.3,-5.0,-5.5,-4.8,-4.2,-3.7,-4.2,-4.8,-7.2,-5.5,-4.6,-4.0,-4.5,-4.0,-4.6,-5.2,-5.0,-5.5],
    [-2.4,-2.1,-2.5,-2.2,-2.6,-2.2,-1.9,-2.3,-2.0,-2.4,-2.1,-2.5,-2.8,-2.4,-2.8,-2.4,-2.1,-2.5,-2.2,-2.6,-2.3,-2.7,-2.4,-2.8,-2.5,-2.2,-2.3],
    [-1.4,-1.8,-2.2,-1.8,-2.2,-2.6,-2.2,-2.7,-2.3,-2.8,-2.4,-2.0,-2.5,-2.1,-2.6,-3.0,-2.6,-3.0,-2.6,-3.0,-3.4,-3.0,-3.5,-3.1,-2.8,-3.2,-3.8],
    [-2.6,-2.9,-3.3,-3.8,-3.4,-4.0,-3.6,-3.2,-3.6,-4.2,-3.8,-3.4,-3.0,-3.4,-3.9,-3.5,-3.0,-3.4,-3.8,-3.4,-3.8,-4.4,-4.0,-3.6,-4.0,-3.6,-4.0],
    [-1.9,-1.6,-2.0,-1.7,-2.1,-1.8,-2.2,-1.9,-2.3,-2.0,-2.4,-2.1,-1.8,-2.2,-1.9,-2.3,-2.0,-1.7,-2.1,-1.8,-2.2,-1.9,-2.3,-2.0,-2.4,-2.1,-2.3],
    [-2.3,-2.7,-2.4,-2.8,-3.2,-2.8,-3.3,-2.9,-3.4,-3.0,-3.6,-3.2,-3.6,-3.2,-2.8,-3.2,-2.9,-3.3,-3.0,-3.5,-3.1,-3.6,-3.2,-3.7,-3.3,-3.0,-2.8],
    [-1.6,-1.9,-1.6,-2.0,-1.7,-2.1,-1.8,-2.2,-1.9,-1.6,-2.0,-1.7,-2.1,-1.8,-2.2,-1.9,-2.3,-2.0,-1.7,-2.1,-1.8,-2.2,-1.9,-2.3,-2.0,-2.4,-2.1],
    [-2.1,-1.8,-2.2,-2.6,-2.2,-2.7,-2.3,-2.0,-2.4,-2.0,-2.5,-2.1,-2.6,-2.2,-2.7,-2.3,-2.8,-2.4,-2.0,-2.4,-2.8,-2.4,-2.9,-2.5,-2.1,-2.5,-2.2],
    [-1.3,-1.6,-1.3,-1.7,-1.4,-1.1,-1.5,-1.2,-1.6,-1.3,-1.0,-1.4,-1.1,-1.5,-1.2,-0.9,-1.3,-1.0,-1.4,-1.1,-1.5,-1.2,-1.6,-1.3,-1.7,-1.4,-1.2],
    [-2.7,-3.0,-2.6,-3.0,-3.4,-3.0,-2.7,-3.1,-3.5,-3.1,-2.8,-3.2,-2.9,-3.3,-3.0,-3.4,-3.1,-3.5,-3.2,-2.9,-3.3,-3.0,-3.4,-3.1,-3.5,-3.2,-3.4],
    [-1.9,-2.2,-1.9,-1.6,-2.0,-1.7,-2.1,-2.5,-2.1,-1.8,-2.2,-1.9,-2.3,-2.0,-2.4,-2.1,-1.8,-2.2,-1.9,-2.3,-2.0,-2.4,-2.1,-1.8,-2.2,-1.9,-2.0],
    [-2.5,-2.2,-2.6,-2.3,-2.7,-2.4,-2.8,-2.5,-2.9,-2.6,-3.0,-2.7,-3.1,-2.8,-2.5,-2.9,-2.6,-3.0,-2.7,-3.1,-2.8,-3.2,-2.9,-2.6,-3.0,-2.7,-2.9],
    [-1.7,-1.4,-1.8,-1.5,-1.9,-2.3,-1.9,-1.6,-2.0,-1.7,-2.1,-1.8,-1.5,-1.9,-1.6,-2.0,-1.7,-2.1,-1.8,-1.5,-1.9,-1.6,-2.0,-1.7,-2.1,-1.8,-1.9],
    [-2.2,-2.5,-2.9,-2.5,-2.2,-2.6,-2.3,-2.7,-2.4,-2.8,-2.5,-2.9,-2.6,-3.0,-2.7,-3.1,-2.8,-2.5,-2.9,-2.6,-3.0,-2.7,-3.1,-2.8,-3.2,-2.9,-3.0],
]

P7_WALKERS = [
    [3.8,1.2,1.0,0.5,0.9,0.4,0.8,0.3,0.7,0.2,0.6,0.1,0.5,0.2,0.6,0.3,0.7,0.3,0.6,0.2,0.6,0.2,0.5,0.1,0.5,0.2,0.6],
    [-0.5,-1.2,-0.8,-2.0,-3.5,-7.0,-3.0,-2.0,-1.2,-0.8,-1.2,-0.8,-1.2,-0.7,-1.1,-0.7,-1.0,-0.6,-1.0,-0.5,-0.9,-0.5,-1.0,-0.6,-1.1,-0.7,-1.0],
    [0.0,0.4,0.0,0.5,0.1,0.6,0.2,-0.2,0.3,-0.1,0.4,0.0,0.4,0.0,0.5,0.1,0.5,0.1,0.5,0.0,0.4,0.0,0.5,0.1,0.5,0.1,0.4],
    [1.0,0.6,1.2,0.8,1.4,2.2,2.5,1.8,1.2,1.6,1.2,0.8,1.2,0.8,1.2,0.7,1.0,1.6,2.6,5.2,3.2,2.0,1.4,0.8,1.2,0.8,1.2],
    [-1.0,-1.5,-1.0,-1.8,-1.2,-0.8,-1.4,-1.0,-1.6,-1.2,-0.8,-1.3,-0.9,-1.4,-1.0,-0.6,-1.1,-0.7,-1.2,-0.8,-1.2,-1.8,-2.5,-1.8,-1.4,-2.0,-1.5],
    [-0.3,0.2,-0.2,-0.6,-0.2,0.2,-0.3,-6.8,-3.0,-2.0,-2.5,-1.5,-0.8,-0.4,-0.8,-0.4,-0.8,-0.3,-0.7,-0.3,-0.6,-1.0,-0.6,-0.2,-0.6,-0.2,-0.5],
    [0.3,-0.2,0.4,0.0,0.5,0.1,-0.4,0.0,0.4,0.0,0.5,0.9,0.4,0.0,0.5,1.0,0.5,0.0,-0.4,0.0,0.4,0.0,-0.4,0.1,0.5,0.9,0.6],
    [-1.8,-2.5,-3.0,-2.2,-1.5,-2.0,-1.5,-2.2,-2.8,-2.0,-1.4,-1.8,-1.3,-1.8,-1.2,-1.6,-1.1,-1.6,-1.1,-1.6,-2.2,-3.0,-4.0,-3.5,-3.0,-2.5,-2.0],
    [0.8,0.3,0.7,0.2,0.6,1.2,0.8,2.0,1.2,0.8,1.4,0.9,1.3,1.8,3.0,1.4,0.9,1.3,0.8,0.3,0.8,0.3,0.7,0.3,0.8,0.4,0.9],
    [-0.6,-1.0,-0.6,-1.1,-1.8,-2.6,-2.0,-1.4,-1.0,-1.4,-0.9,-1.3,-0.8,-1.2,-0.7,-1.1,-0.6,-1.0,-1.4,-1.0,-1.5,-2.5,-4.5,-5.8,-5.5,-3.0,-2.2],
    [0.2,-0.3,0.1,-0.3,0.2,-0.2,0.2,-0.2,0.3,-0.1,0.3,-0.1,0.2,-0.2,0.2,-0.1,0.3,-0.1,0.3,-0.1,0.2,-0.2,0.2,-0.2,0.2,-0.2,0.2],
    [-1.2,-0.8,-1.5,-2.5,-3.5,-2.8,-1.8,-1.2,-1.6,-1.2,-1.6,-2.2,-1.6,-1.1,-1.5,-1.0,-1.4,-1.9,-1.4,-1.0,-1.4,-0.9,-1.3,-1.8,-2.8,-4.3,-2.5],
    [0.5,1.0,0.5,0.9,0.5,1.0,1.6,0.9,0.5,2.2,1.4,0.8,0.4,0.8,2.2,1.3,3.1,1.8,1.0,0.5,1.0,3.2,1.6,1.0,2.4,1.5,1.0],
    [-0.8,-0.4,-0.9,-0.5,-1.0,-0.5,-1.0,-1.6,-1.0,-0.6,-1.1,-0.6,-0.2,-0.6,-0.2,-0.7,-0.3,-0.8,-0.4,-0.9,-0.5,-0.9,-0.4,-0.9,-0.5,-0.9,-0.6],
    [0.0,0.5,1.0,0.6,1.0,0.5,0.0,0.4,0.0,0.4,-0.1,0.3,0.7,0.3,-0.2,0.2,-0.2,0.2,-0.3,0.2,-0.2,0.3,-0.1,0.3,0.8,0.4,0.0],
    [-0.2,-0.8,-0.3,-0.8,-0.3,0.2,-0.3,0.1,-0.4,0.0,-0.5,-0.1,-0.5,-0.1,0.3,-0.2,0.2,-0.3,0.1,-0.4,0.0,-0.5,-0.1,-0.5,-0.1,-0.6,-0.8],
    [0.4,0.0,0.5,0.1,-0.3,0.1,-0.4,0.0,0.5,0.1,-0.3,0.2,-0.2,0.3,-0.1,0.4,0.0,-0.4,0.1,-0.3,0.2,-0.2,0.3,-0.1,0.4,0.0,0.2],
    [-0.4,-0.8,-0.3,-0.7,-0.2,-0.6,-1.0,-0.5,-0.9,-0.4,-0.8,-0.3,-0.7,-1.1,-0.6,-1.0,-0.5,-0.9,-0.4,-0.8,-0.3,-0.7,-1.1,-0.6,-1.0,-0.5,-0.8],
    [0.1,0.5,0.9,0.4,0.8,0.3,0.7,0.2,0.6,0.1,0.5,0.0,0.4,0.8,0.3,0.7,0.2,0.6,0.1,0.5,0.9,0.4,0.8,0.3,0.7,0.2,0.5],
    [-0.9,-0.5,-1.0,-1.5,-1.0,-0.6,-1.1,-0.7,-1.2,-0.8,-1.3,-0.9,-1.4,-1.0,-0.6,-1.1,-0.7,-1.2,-0.8,-1.3,-0.9,-1.4,-1.0,-1.5,-1.1,-0.7,-1.2],
    [0.6,0.2,0.7,0.3,-0.1,0.4,0.0,0.5,0.1,-0.3,0.2,-0.2,0.3,-0.1,0.4,0.0,-0.4,0.1,-0.3,0.2,-0.2,0.3,-0.1,0.4,0.0,-0.4,0.1],
    [-0.2,0.2,-0.3,0.1,-0.4,0.0,-0.5,-0.1,-0.6,-0.2,-0.7,-0.3,0.1,-0.4,0.0,-0.5,-0.1,-0.6,-0.2,0.2,-0.3,0.1,-0.4,0.0,-0.5,-0.1,-0.3],
    [1.2,0.8,1.3,0.9,0.5,1.0,0.6,1.1,0.7,0.3,0.8,0.4,0.9,0.5,1.0,0.6,1.1,0.7,0.3,0.8,0.4,0.9,0.5,1.0,0.6,1.1,0.8],
    [-0.7,-1.1,-0.6,-1.0,-0.5,-0.9,-0.4,-0.8,-0.3,-0.7,-0.2,-0.6,-0.1,-0.5,-0.9,-0.4,-0.8,-0.3,-0.7,-0.2,-0.6,-1.0,-0.5,-0.9,-0.4,-0.8,-0.5],
]

P8_WALKERS = [
    [-2.8,0.8,0.3,0.0,0.5,0.1,0.4,0.0,-0.3,0.1,-0.2,0.2,-0.1,0.3,0.0,0.4,0.7,1.1,0.8,0.5,0.9,1.2,1.0,0.8,1.1,1.3,1.3],
    [-0.5,-0.8,-0.5,-0.9,-0.6,-1.0,-0.7,-1.1,-0.8,-1.2,-0.9,-1.3,-1.0,-1.4,-1.1,-1.5,-1.3,-1.9,-2.4,-2.0,-1.7,-1.4,-1.6,-1.3,-1.5,-1.2,-1.4],
    [0.1,0.4,0.1,-0.2,0.1,-0.2,-0.5,-0.2,0.1,-0.2,-0.5,-0.2,0.1,-0.3,0.0,0.3,0.0,-0.3,0.1,0.4,0.1,-0.2,0.2,0.5,0.2,-0.1,0.2],
    [-0.9,-1.2,-0.9,-1.2,-0.8,-1.1,-1.4,-1.1,-1.5,-1.2,-0.9,-1.3,-1.6,-1.2,-1.5,-1.9,-1.6,-2.1,-2.6,-2.2,-1.8,-1.5,-1.8,-1.4,-1.7,-1.4,-1.6],
    [-0.2,0.1,-0.3,0.0,-0.4,-0.1,0.2,-0.1,-0.4,0.0,-0.3,0.1,-0.2,0.2,-0.1,-0.4,0.0,0.4,0.1,0.5,0.1,-0.3,0.1,0.5,0.1,0.5,0.8],
    [-1.9,-0.6,-0.9,-0.6,-1.0,-0.7,-0.4,-0.8,-0.5,-0.9,-0.6,-1.0,-0.7,-1.1,-0.8,-0.5,-0.9,-0.6,-1.0,-0.7,-1.1,-0.8,-1.2,-0.9,-0.6,-1.0,-0.7],
    [0.3,0.0,0.4,0.7,0.3,0.0,0.3,0.0,-0.3,0.0,0.3,0.6,0.3,0.0,0.4,0.1,0.5,0.2,0.6,0.3,0.0,0.4,0.1,-0.3,0.1,-0.3,0.0],
    [-0.6,-0.3,-0.7,-1.0,-0.7,-1.1,-0.8,-0.5,-0.9,-1.3,-1.0,-1.4,-1.1,-0.7,-1.0,-0.7,-1.1,-0.8,-1.2,-0.9,-1.3,-1.0,-0.7,-1.1,-0.8,-1.2,-0.9],
    [0.0,-0.3,0.0,-0.3,0.1,-0.2,0.1,0.4,0.1,-0.2,0.2,-0.1,0.2,0.5,0.2,0.6,0.2,-0.1,0.3,0.0,0.4,0.7,0.4,0.1,0.5,0.2,0.6],
    [-1.2,-0.9,-1.3,-1.0,-1.4,-1.1,-0.8,-1.2,-0.9,-1.3,-1.7,-1.4,-1.8,-1.5,-1.2,-1.6,-1.3,-1.7,-1.4,-1.8,-1.5,-1.9,-1.6,-1.3,-1.7,-1.4,-1.7],
    [-0.3,-0.6,-0.3,-0.6,-0.2,-0.5,-0.2,-0.6,-0.3,0.1,-0.2,-0.6,-0.3,-0.7,-0.4,-0.1,-0.5,-0.2,-0.6,-0.2,-0.5,-0.1,-0.4,-0.8,-0.5,-0.1,-0.4],
    [0.5,0.2,0.6,0.2,-0.1,0.3,0.0,0.3,0.7,0.3,0.0,0.4,0.8,0.4,0.0,0.3,0.7,0.3,0.7,1.0,0.7,0.3,0.6,0.2,0.5,0.1,0.4],
    [-0.8,-0.5,-0.8,-0.4,-0.7,-0.4,-0.8,-1.1,-0.8,-0.5,-0.9,-0.5,-0.8,-0.4,-0.8,-1.2,-0.8,-1.1,-0.7,-0.4,-0.7,-0.3,-0.7,-1.0,-0.6,-0.9,-0.6],
    [-0.4,-0.7,-1.0,-0.7,-1.1,-0.7,-1.0,-0.6,-0.9,-0.6,-0.9,-0.5,-0.8,-0.5,-0.8,-0.4,-0.8,-0.4,-0.8,-0.5,-0.8,-0.4,-0.1,-0.4,-0.8,-1.1,-1.0],
    [-0.1,0.3,-0.1,-0.4,-0.1,-0.5,-0.2,-0.6,-0.3,-0.7,-0.4,-0.1,-0.5,-0.2,-0.6,-0.3,-0.7,-0.4,-0.8,-0.5,-0.2,-0.6,-0.3,-0.7,-0.4,-0.1,-0.3],
    [-1.0,-1.3,-1.0,-1.4,-1.1,-1.5,-1.2,-0.9,-1.3,-1.0,-1.4,-1.1,-0.8,-1.2,-0.9,-1.3,-1.0,-1.4,-1.1,-0.8,-1.2,-0.9,-1.3,-1.0,-1.4,-1.1,-1.2],
    [-0.3,0.0,-0.4,-0.1,-0.5,-0.2,-0.6,-0.3,-0.7,-0.4,-0.1,-0.5,-0.2,-0.6,-0.3,-0.7,-0.4,-0.1,-0.5,-0.2,-0.6,-0.3,-0.7,-0.4,-0.8,-0.5,-0.6],
    [-0.7,-1.0,-0.6,-0.9,-0.5,-0.8,-1.2,-0.9,-1.3,-1.0,-0.7,-1.1,-0.8,-1.2,-0.9,-1.3,-1.0,-1.4,-1.1,-0.8,-1.2,-0.9,-1.3,-1.0,-1.4,-1.1,-1.3],
    [0.2,-0.1,0.3,0.0,0.4,0.1,-0.2,0.2,-0.1,0.3,0.0,0.4,0.1,-0.2,0.2,0.6,0.3,0.7,0.4,0.1,0.5,0.2,0.6,0.3,0.7,0.4,0.5],
    [-0.5,-0.2,-0.6,-0.3,-0.7,-0.4,-0.8,-0.5,-0.2,-0.6,-0.3,-0.7,-0.4,-0.8,-0.5,-0.9,-0.6,-0.3,-0.7,-0.4,-0.8,-0.5,-0.2,-0.6,-0.3,-0.7,-0.5],
    [-1.1,-0.8,-1.2,-0.9,-1.3,-1.0,-1.4,-1.1,-0.8,-1.2,-0.9,-1.3,-1.0,-1.4,-1.7,-1.3,-1.6,-1.2,-1.5,-1.1,-1.4,-1.0,-1.3,-0.9,-1.2,-0.8,-1.1],
    [0.0,0.3,-0.1,0.2,-0.2,0.1,-0.3,0.0,0.3,-0.1,0.2,-0.2,0.1,-0.3,0.0,-0.4,-0.1,0.2,-0.2,0.1,0.4,0.0,0.3,-0.1,0.2,-0.2,0.1],
    [-0.4,-0.7,-0.3,-0.6,-0.2,-0.5,-0.9,-0.6,-1.0,-0.7,-0.4,-0.8,-0.5,-0.9,-0.6,-1.0,-0.7,-1.1,-0.8,-0.5,-0.9,-0.6,-1.0,-0.7,-1.1,-0.8,-0.9],
    [-0.6,-0.3,-0.7,-0.4,-0.1,-0.5,-0.2,-0.6,-0.3,-0.7,-0.4,-0.1,-0.5,-0.2,-0.6,-0.3,-0.7,-0.4,-0.1,-0.5,-0.2,-0.6,-0.3,0.0,-0.4,-0.1,-0.2],
]

ALL_WALKERS = [P1_WALKERS, P2_WALKERS, P3_WALKERS, P4_WALKERS,
               P5_WALKERS, P6_WALKERS, P7_WALKERS, P8_WALKERS]
STRAYS = {3: (P4_STRAY_ITER, P4_STRAY_VAL), 4: (P5_STRAY_ITER, P5_STRAY_VAL)}

Y_RANGES = [
    [-1.0756, -0.662],
    [1.0096, 1.1957],
    [-1.788, 2.119],
    [-14.54, 3.83],
    [-3.227, 3.955],
    [-9.045, 0.675],
    [-8.03, 5.95],
    [-2.976, 1.683],
]
X_RANGE = [-50, 1050]

# ---------------- layout geometry (pixels) ----------------
W, H = 1444, 1990
ML, MR, MT, MB = 184.5, 19, 19, 122.5
PLOT_H = H - MT - MB
PLOT_W = W - ML - MR
PANEL_H = 196.5
PITCH = 236
FONT = "Liberation Sans, Arial, sans-serif"
FS = 37
LINE_COLOR = "rgba(31,119,180,0.36)"
LINE_W = 2.0

fig = go.Figure()


def walker_xy(vals, shift):
    """Step positions of one walker: its values held from each accepted move."""
    if len(vals) >= 27:
        pos = [GRID27[0], GRID27[1]] + [g + shift for g in GRID27[2:]]
    else:
        pos = [GRID26[0]] + [g + shift for g in GRID26[1:]]
    xs, ys = [], []
    for p, v in zip(pos, vals):
        if p <= LAST_ITER:
            xs.append(p)
            ys.append(v)
    if xs[-1] < LAST_ITER:
        xs.append(LAST_ITER)
        ys.append(ys[-1])
    return xs, ys


layout_axes = {}
for k in range(8):
    xa = "x" if k == 0 else f"x{k+1}"
    ya = "y" if k == 0 else f"y{k+1}"
    for w, vals in enumerate(ALL_WALKERS[k]):
        xs, ys = walker_xy(vals, WALKER_SHIFT[(w + 3 * k) % len(WALKER_SHIFT)])
        fig.add_trace(go.Scatter(x=xs, y=ys, mode="lines", line_shape="hv",
                                 line=dict(color=LINE_COLOR, width=LINE_W),
                                 xaxis=xa, yaxis=ya, showlegend=False, hoverinfo="skip"))
    if k in STRAYS:
        xs, ys = STRAYS[k]
        fig.add_trace(go.Scatter(x=xs, y=ys, mode="lines", line_shape="hv",
                                 line=dict(color=LINE_COLOR, width=LINE_W),
                                 xaxis=xa, yaxis=ya, showlegend=False, hoverinfo="skip"))

    top_px = MT + PITCH * k
    bot_px = top_px + PANEL_H
    d0 = (H - MB - bot_px) / PLOT_H
    d1 = (H - MB - top_px) / PLOT_H
    axcommon = dict(showline=True, mirror=True, linecolor="black", linewidth=1.8,
                    ticks="outside", ticklen=10, tickwidth=1.8, tickcolor="black",
                    showgrid=False, zeroline=False, automargin=False,
                    tickfont=dict(family=FONT, size=FS, color="black"))
    xkey = "xaxis" if k == 0 else f"xaxis{k+1}"
    ykey = "yaxis" if k == 0 else f"yaxis{k+1}"
    layout_axes[xkey] = dict(axcommon, domain=[0, 1], range=X_RANGE, anchor=ya,
                             tickmode="array", tickvals=X_TICKS,
                             ticktext=[str(v) for v in X_TICKS],
                             showticklabels=(k == 7))
    layout_axes[ykey] = dict(axcommon, domain=[d0, min(d1, 1.0)], range=Y_RANGES[k], anchor=xa,
                             tickmode="array", tickvals=Y_TICKS[k], ticktext=Y_TICK_TEXT[k])

fig.update_layout(**layout_axes)

annotations = []
for k in range(8):
    top_px = MT + PITCH * k
    cy = (H - MB - (top_px + PANEL_H / 2)) / PLOT_H
    annotations.append(dict(text=PARAM_LABELS[k], xref="paper", yref="paper",
                            x=(37 - ML) / PLOT_W, y=cy, xanchor="center", yanchor="middle",
                            textangle=-90, showarrow=False,
                            font=dict(family=FONT, size=FS, color="black")))
annotations.append(dict(text=X_TITLE, xref="paper", yref="paper",
                        x=0.5, y=(H - MB - 1948) / PLOT_H, xanchor="center", yanchor="middle",
                        showarrow=False, font=dict(family=FONT, size=FS, color="black")))

fig.update_layout(width=W, height=H,
                  margin=dict(l=ML, r=MR, t=MT, b=MB, pad=0, autoexpand=False),
                  paper_bgcolor="white", plot_bgcolor="white",
                  annotations=annotations, font=dict(family=FONT, size=FS, color="black"))

fig.write_html("out.html")
